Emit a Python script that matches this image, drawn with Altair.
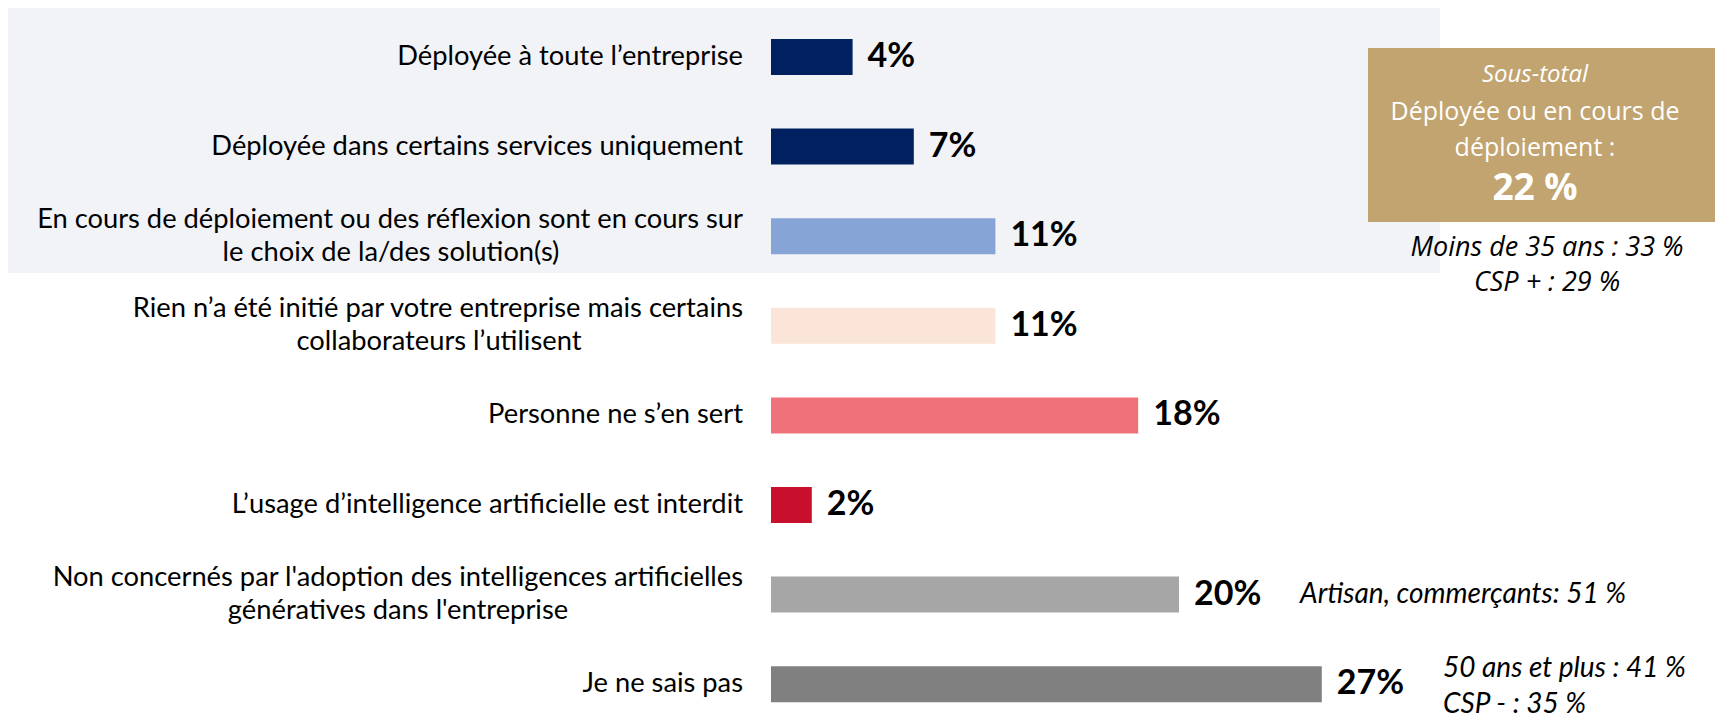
import altair as alt
import pandas as pd

# ---------------- data ----------------
categories = [
    ["Déployée à toute l’entreprise"],
    ["Déployée dans certains services uniquement"],
    ["En cours de déploiement ou des réflexion sont en cours sur", "le choix de la/des solution(s)"],
    ["Rien n’a été initié par votre entreprise mais certains", "collaborateurs l’utilisent"],
    ["Personne ne s’en sert"],
    ["L’usage d’intelligence artificielle est interdit"],
    ["Non concernés par l'adoption des intelligences artificielles", "génératives  dans l'entreprise"],
    ["Je ne sais pas"],
]
values = [4, 7, 11, 11, 18, 2, 20, 27]
colors = ["#002060", "#002060", "#87A4D6", "#FBE5D9", "#EF727A", "#C8102E", "#A6A6A6", "#808080"]

subtotal_title = "Sous-total"
subtotal_lines = ["Déployée ou en cours de", "déploiement :"]
subtotal_value = "22 %"
subtotal_notes = ["Moins de 35 ans : 33 %", "CSP + : 29 %"]
note_row6 = ["Artisan, commerçants: 51 %"]
note_row7 = ["50 ans et plus : 41 %", "CSP - : 35 %"]

# ---------------- layout ----------------
W, H = 1707, 714
PX_PER_PCT = 20.4
BAR_X0 = 763
ROW0, ROW_STEP = 49, 89.6
LABEL_RIGHT = 735
LABEL_FS = 27.3
SECOND_LINE_CENTER = {2: 383, 3: 431, 6: 390}
LINE_GAP = 33 / ROW_STEP
BAR_HALF = 18 / ROW_STEP

x_lo = -BAR_X0 / PX_PER_PCT
x_scale = alt.Scale(domain=[x_lo, x_lo + W / PX_PER_PCT], nice=False, zero=False)
y_lo = -ROW0 / ROW_STEP
y_scale = alt.Scale(domain=[y_lo, y_lo + H / ROW_STEP], nice=False, zero=False, reverse=True)

bars_df = pd.DataFrame({
    "row": list(range(len(values))),
    "value": values,
    "color": colors,
    "label": [f"{v}%" for v in values],
})
bars_df["y0"] = bars_df["row"] - BAR_HALF
bars_df["y1"] = bars_df["row"] + BAR_HALF

lab_rows = []
for i, lines in enumerate(categories):
    n = len(lines)
    for j, t in enumerate(lines):
        kind = "single" if n == 1 else ("first" if j == 0 else "second")
        lab_rows.append({
            "row": i,
            "y": i + (j - (n - 1) / 2) * LINE_GAP,
            "text": t,
            "kind": kind,
            "cx": SECOND_LINE_CENTER.get(i, LABEL_RIGHT),
        })
lab_df = pd.DataFrame(lab_rows)

X = alt.X("value:Q", scale=x_scale, axis=None)

panel = alt.Chart(pd.DataFrame({"a": [0]})).mark_rect(color="#F2F3F7").encode(
    x=alt.value(-3), x2=alt.value(1432), y=alt.value(0), y2=alt.value(265)
)

bars = alt.Chart(bars_df).mark_rect().encode(
    x=X,
    x2=alt.datum(0),
    y=alt.Y("y0:Q", scale=y_scale, axis=None),
    y2="y1:Q",
    color=alt.Color("color:N", scale=None),
)

value_labels = alt.Chart(bars_df).mark_text(
    align="left", baseline="middle", dx=15, font="Lato", fontSize=34, fontWeight="bold", color="#000000"
).encode(
    x=X,
    y=alt.Y("row:Q", scale=y_scale, axis=None),
    text="label:N",
)

cat_right = alt.Chart(lab_df).transform_filter("datum.kind != 'second'").mark_text(
    align="right", baseline="middle", font="Lato", fontSize=LABEL_FS, color="#000000"
).encode(
    x=alt.value(LABEL_RIGHT),
    y=alt.Y("y:Q", scale=y_scale, axis=None),
    text="text:N",
)

cat_second = alt.Chart(lab_df).transform_filter("datum.kind == 'second'").mark_text(
    align="center", baseline="middle", font="Lato", fontSize=LABEL_FS, color="#000000"
).encode(
    x=alt.X("cx:Q", scale=None),
    y=alt.Y("y:Q", scale=y_scale, axis=None),
    text="text:N",
)

# sub-total box
box = alt.Chart(pd.DataFrame({"a": [0]})).mark_rect(color="#C1A470").encode(
    x=alt.value(1360), x2=alt.value(W), y=alt.value(40), y2=alt.value(214)
)
BOX_CX = 1527
NOTES_CX = 1539
box_df = pd.DataFrame({
    "text": [subtotal_title] + subtotal_lines + [subtotal_value],
    "py": [67, 104, 140, 181],
    "kind": ["title", "line", "line", "value"],
})
box_title = alt.Chart(box_df).transform_filter("datum.kind == 'title'").mark_text(
    align="center", baseline="middle", font="Open Sans", fontSize=24, fontStyle="italic", color="#FFFFFF"
).encode(x=alt.value(BOX_CX), y=alt.Y("py:Q", scale=None), text="text:N")
box_lines = alt.Chart(box_df).transform_filter("datum.kind == 'line'").mark_text(
    align="center", baseline="middle", font="Open Sans", fontSize=25, color="#FFFFFF"
).encode(x=alt.value(BOX_CX), y=alt.Y("py:Q", scale=None), text="text:N")
box_value = alt.Chart(box_df).transform_filter("datum.kind == 'value'").mark_text(
    align="center", baseline="middle", font="Open Sans", fontSize=37, fontWeight="bold", color="#FFFFFF"
).encode(x=alt.value(BOX_CX), y=alt.Y("py:Q", scale=None), text="text:N")

notes_df = pd.DataFrame({"text": subtotal_notes, "py": [240, 275]})
sub_notes = alt.Chart(notes_df).mark_text(
    align="center", baseline="middle", font="Open Sans", fontSize=27, fontStyle="italic", color="#000000"
).encode(x=alt.value(NOTES_CX), y=alt.Y("py:Q", scale=None), text="text:N")

note6_df = pd.DataFrame({"text": note_row6, "y": [6.0]})
note6 = alt.Chart(note6_df).mark_text(
    align="left", baseline="middle", font="Lato", fontSize=28, fontStyle="italic", color="#000000"
).encode(x=alt.value(1292), y=alt.Y("y:Q", scale=y_scale, axis=None), text="text:N")

note7_df = pd.DataFrame({"text": note_row7, "y": [7 - 15 / ROW_STEP, 7 + 21 / ROW_STEP]})
note7 = alt.Chart(note7_df).mark_text(
    align="left", baseline="middle", font="Lato", fontSize=28, fontStyle="italic", color="#000000"
).encode(x=alt.value(1435), y=alt.Y("y:Q", scale=y_scale, axis=None), text="text:N")

chart = alt.layer(
    panel, bars, value_labels, cat_right, cat_second,
    box, box_title, box_lines, box_value, sub_notes, note6, note7,
).properties(
    width=W, height=H, padding=0, autosize=alt.AutoSizeParams(type="none"), background="#FFFFFF"
).configure_view(stroke=None)

chart.save("out.html", embed_options={"renderer": "svg", "actions": False})
